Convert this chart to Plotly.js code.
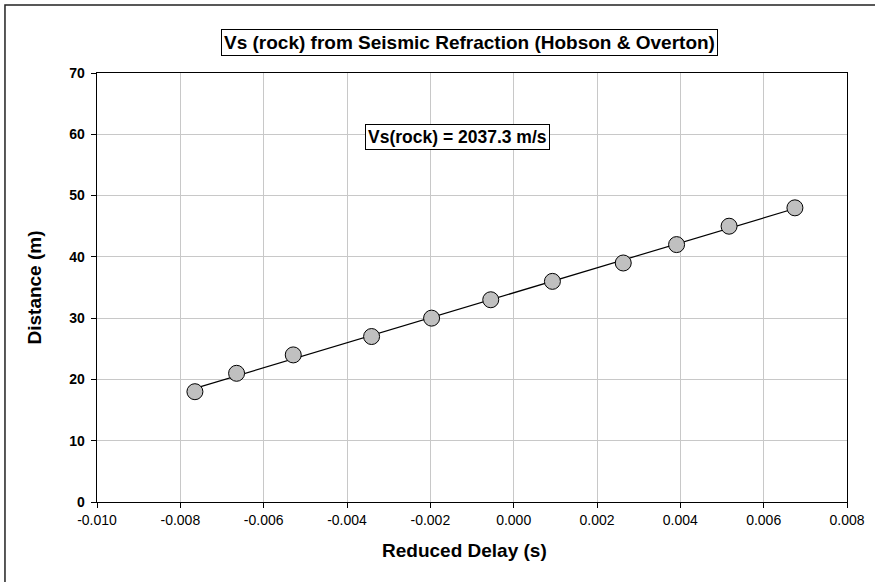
<!DOCTYPE html>
<html>
<head>
<meta charset="utf-8">
<script src="https://cdn.plot.ly/plotly-3.0.1.min.js"></script>
<style>
  html, body { margin: 0; padding: 0; background: #fff; }
  #chart { width: 875px; height: 582px; }
</style>
</head>
<body>
<div id="chart"></div>
<script>
// Reduced delay (s) against geophone distance (m)
const delay = [-0.00765, -0.00665, -0.00529, -0.00341, -0.00197, -0.00055,
               0.00093, 0.00263, 0.00391, 0.00517, 0.00675];
const distance = [18, 21, 24, 27, 30, 33, 36, 39, 42, 45, 48];

// Rock shear-wave velocity from the fitted slope (m/s)
const vsRock = 2037.3;

const xTicks = [-0.010, -0.008, -0.006, -0.004, -0.002, 0.000, 0.002, 0.004, 0.006, 0.008];
const xTickText = ['-0.010', '-0.008', '-0.006', '-0.004', '-0.002', '0.000', '0.002', '0.004', '0.006', '0.008'];
const yTicks = [0, 10, 20, 30, 40, 50, 60, 70];
const yTickText = yTicks.map(v => '<b>' + v + '</b>');

// Trend line: slope = Vs(rock), passing through the centroid of the data
const meanX = delay.reduce((a, b) => a + b, 0) / delay.length;
const meanY = distance.reduce((a, b) => a + b, 0) / distance.length;
const intercept = meanY - vsRock * meanX;
const xMin = Math.min(...delay), xMax = Math.max(...delay);
const lineX = [xMin, xMax];
const lineY = lineX.map(x => intercept + vsRock * x);

const FONT = 'Liberation Sans, Arial, sans-serif';

const traces = [
  {
    x: lineX, y: lineY, type: 'scatter', mode: 'lines',
    line: { color: '#000', width: 1.2 }, hoverinfo: 'skip', showlegend: false
  },
  {
    x: delay, y: distance, type: 'scatter', mode: 'markers',
    marker: { size: 16, color: '#c0c0c0', line: { color: '#000', width: 1 } },
    showlegend: false
  }
];

const layout = {
  width: 875, height: 582,
  margin: { l: 97, r: 28, t: 73, b: 80 },
  paper_bgcolor: '#fff', plot_bgcolor: '#fff',
  font: { family: FONT, color: '#000' },
  showlegend: false,
  xaxis: {
    range: [-0.010, 0.008], tickvals: xTicks, ticktext: xTickText,
    showgrid: true, gridcolor: '#c8c8c8', gridwidth: 1,
    zeroline: false, showline: true, linecolor: '#000', linewidth: 1.3, mirror: true,
    ticks: 'outside', ticklen: 5, tickcolor: '#000',
    tickfont: { size: 14, family: FONT }
  },
  yaxis: {
    range: [0, 70], tickvals: yTicks, ticktext: yTickText,
    showgrid: true, gridcolor: '#c8c8c8', gridwidth: 1,
    zeroline: false, showline: true, linecolor: '#000', linewidth: 1.3, mirror: true,
    ticks: 'outside', ticklen: 5, tickcolor: '#000',
    tickfont: { size: 14, family: FONT },
    ticklabelstandoff: 3,
    title: { text: '<b>Distance (m)</b>', font: { size: 19, family: FONT }, standoff: 22 }
  },
  annotations: [
    {
      xref: 'paper', yref: 'paper', x: 0.497, y: 1.072,
      xanchor: 'center', yanchor: 'middle', showarrow: false,
      text: '<b>Vs (rock) from Seismic Refraction (Hobson &amp; Overton)</b>',
      font: { size: 19, family: FONT, color: '#000' },
      bgcolor: '#fff', bordercolor: '#000', borderwidth: 1, borderpad: 2
    },
    {
      xref: 'paper', yref: 'paper', x: 0.48, y: 0.851,
      xanchor: 'center', yanchor: 'middle', showarrow: false,
      text: '<b>Vs(rock) = ' + vsRock.toFixed(1) + ' m/s</b>',
      font: { size: 17.5, family: FONT, color: '#000' },
      bgcolor: '#fff', bordercolor: '#000', borderwidth: 1, borderpad: 2
    },
    // x-axis title
    {
      xref: 'paper', yref: 'paper', x: 0.49, y: -0.112,
      xanchor: 'center', yanchor: 'middle', showarrow: false,
      text: '<b>Reduced Delay (s)</b>',
      font: { size: 19, family: FONT, color: '#000' }
    }
  ],
  shapes: [
    // chart frame
    {
      type: 'rect', xref: 'paper', yref: 'paper',
      x0: -0.1227, x1: 1.08, y0: -0.22, y1: 1.1585,
      line: { color: '#222', width: 1.5 }, fillcolor: 'rgba(0,0,0,0)', layer: 'below'
    }
  ]
};

Plotly.newPlot('chart', traces, layout, { displayModeBar: false, staticPlot: true });
</script>
</body>
</html>
